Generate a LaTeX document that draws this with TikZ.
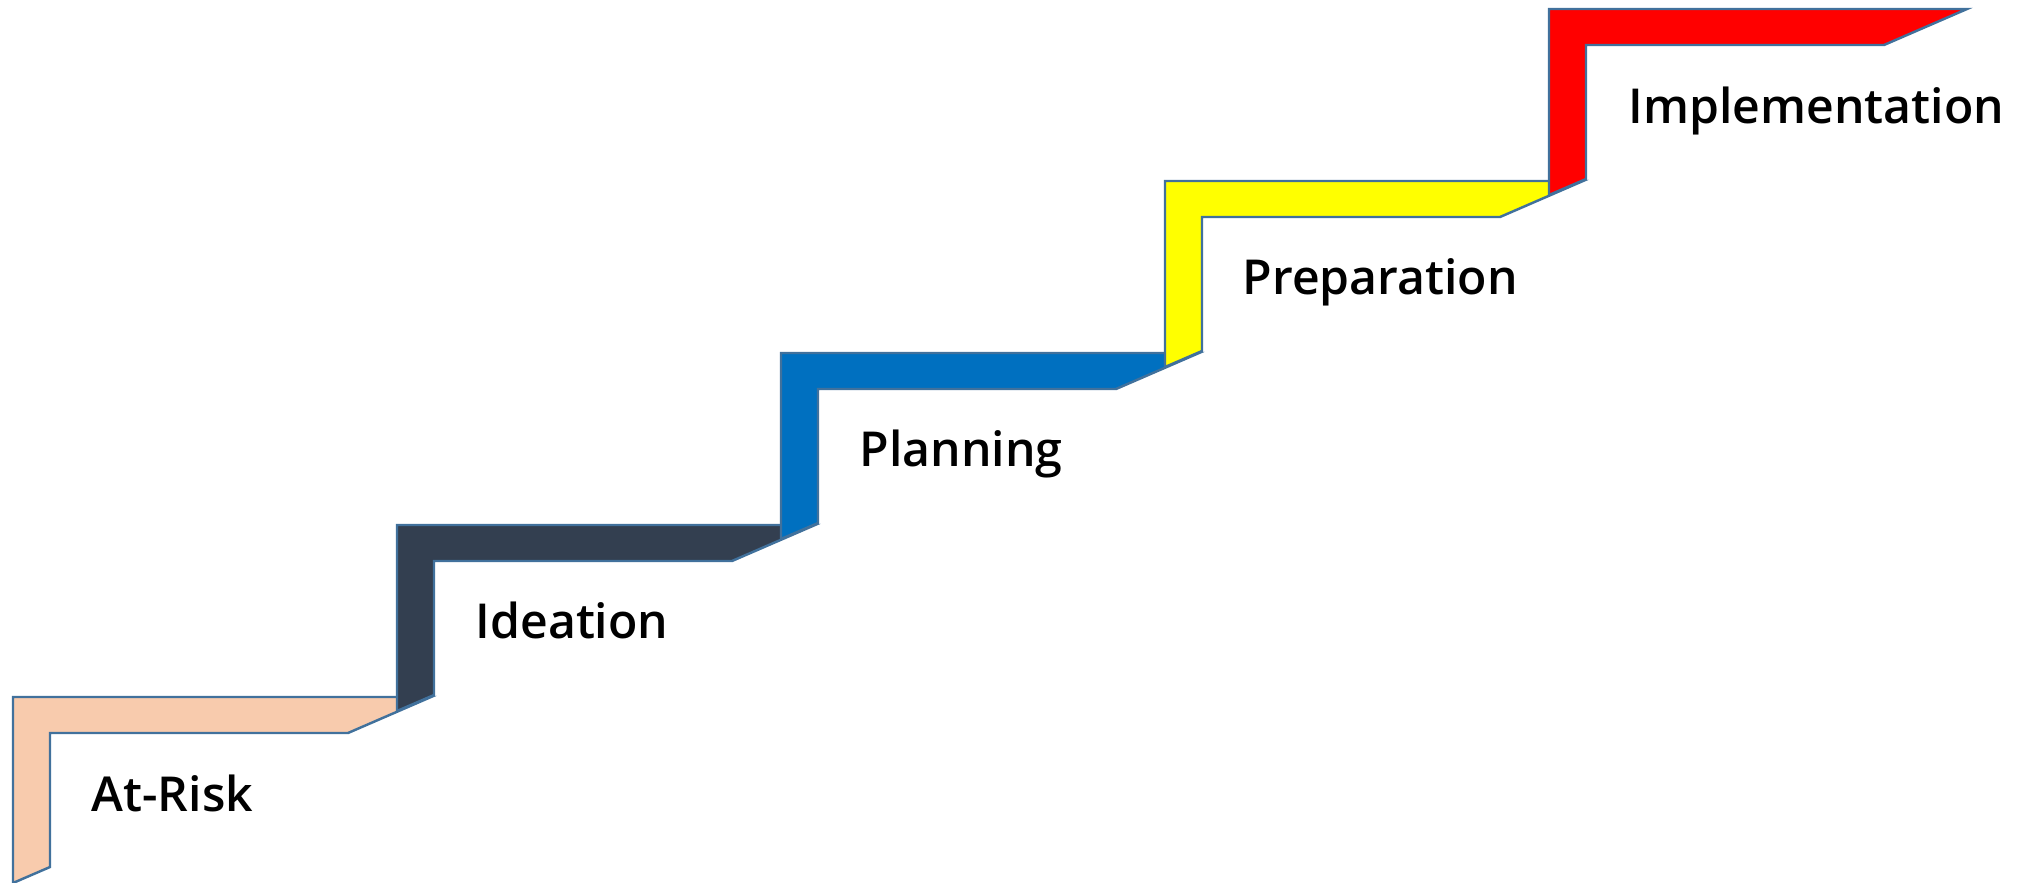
\documentclass[tikz,border=0pt]{standalone}
\usepackage{fontspec}
\IfFontExistsTF{Open Sans SemiBold}{%
  \setmainfont{Open Sans}[BoldFont = {Open Sans SemiBold}]
  \newcommand{\stagesize}{\fontsize{13.7}{16}\selectfont}}{%
  \IfFontExistsTF{Open Sans Semibold}{%
    \setmainfont{Open Sans}[BoldFont = {Open Sans Semibold}]
    \newcommand{\stagesize}{\fontsize{13.7}{16}\selectfont}}{%
    \setmainfont{Open Sans}
    \newcommand{\stagesize}{\fontsize{12.9}{15}\selectfont}}}
\usepackage{tikz}
\usetikzlibrary{positioning, calc}
\definecolor{riskcol}{HTML}{F8CBAD}
\definecolor{ideacol}{HTML}{333F50}
\definecolor{plancol}{HTML}{0070C0}
\definecolor{prepcol}{HTML}{FFFF00}
\definecolor{implcol}{HTML}{FF0000}
\definecolor{edgecol}{HTML}{41719C}
\tikzstyle{Stair} = [
%one stair: L shaped bar with slanted ends
draw = edgecol, line width = 0.7pt, line join = miter
]
\begin{document}
\begin{tikzpicture}[
			stage/.style = {anchor = base west, inner sep = 0pt, font = \stagesize\bfseries},
		]
		\useasboundingbox (0,0) rectangle (20.2,8.82);

		\draw[Stair, fill = riskcol, shift = {(0.13,1.85)}] (0,0) -- (4.18,0) -- (3.35,-0.36) -- (0.37,-0.36) -- (0.37,-1.70) -- (0,-1.86) -- cycle;
		\draw[Stair, fill = ideacol, shift = {(3.97,3.57)}] (0,0) -- (4.18,0) -- (3.35,-0.36) -- (0.37,-0.36) -- (0.37,-1.70) -- (0,-1.86) -- cycle;
		\draw[Stair, fill = plancol, shift = {(7.81,5.29)}] (0,0) -- (4.18,0) -- (3.35,-0.36) -- (0.37,-0.36) -- (0.37,-1.70) -- (0,-1.86) -- cycle;
		\draw[Stair, fill = prepcol, shift = {(11.65,7.01)}] (0,0) -- (4.18,0) -- (3.35,-0.36) -- (0.37,-0.36) -- (0.37,-1.70) -- (0,-1.86) -- cycle;
		\draw[Stair, fill = implcol, shift = {(15.49,8.73)}] (0,0) -- (4.18,0) -- (3.35,-0.36) -- (0.37,-0.36) -- (0.37,-1.70) -- (0,-1.86) -- cycle;

		\node[stage] (risk) at (0.91,0.71) {At-Risk};
		\node[stage] (idea) at (4.75,2.44) {Ideation};
		\node[stage] (plan) at (8.59,4.16) {Planning};
		\node[stage] (prep) at (12.42,5.88) {Preparation};
		\node[stage] (impl) at (16.28,7.59) {Implementation};

	\end{tikzpicture}
\end{document}
